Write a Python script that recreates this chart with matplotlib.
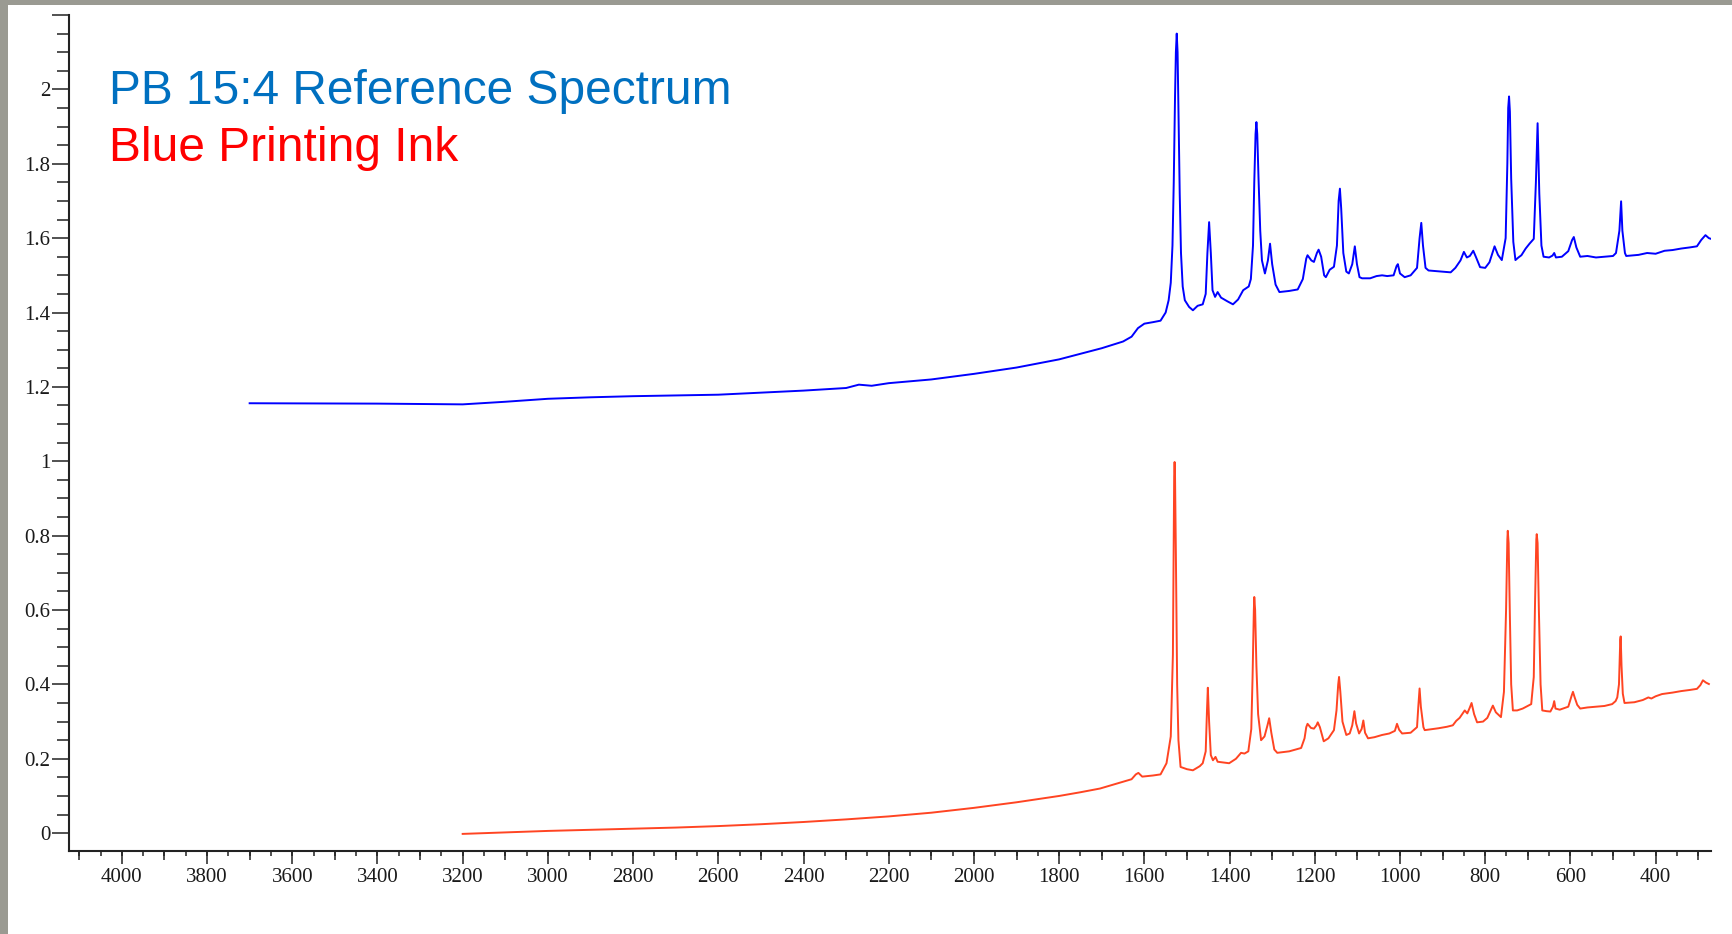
import matplotlib
matplotlib.use("Agg")
import matplotlib.pyplot as plt
from matplotlib.patches import Rectangle
from matplotlib.ticker import MultipleLocator
import numpy as np

# ---------------- data ----------------
blue_x = [3700, 3400, 3200, 3100, 3000, 2900, 2800, 2600, 2400, 2300, 2270, 2240, 2200, 2100,
          2000, 1900, 1800, 1700, 1650, 1630, 1615, 1600, 1580, 1562, 1550, 1543, 1538, 1534, 1531,
          1528, 1526, 1524, 1522, 1520, 1517, 1514, 1510, 1505, 1495, 1486, 1475, 1463, 1456, 1452, 1448, 1444,
          1440, 1434, 1428, 1420, 1405, 1392, 1380, 1368, 1355, 1350, 1345, 1342, 1339, 1337, 1335, 1332,
          1328, 1324, 1317, 1310, 1305, 1300, 1292, 1283, 1260, 1240, 1228, 1220, 1217, 1208,
          1202, 1195, 1191, 1185, 1178, 1174, 1165, 1155, 1148, 1144, 1141, 1138, 1133, 1126,
          1120, 1112, 1106, 1101, 1095, 1089, 1070, 1055, 1042, 1030, 1015, 1008, 1005, 1000,
          989, 975, 960, 954, 950, 946, 940, 933, 900, 881, 870, 858, 850, 843, 836, 828, 822,
          812, 800, 790, 778, 770, 761, 752, 748, 746, 744, 742, 739, 734, 729, 722, 715, 705, 696, 686,
          681, 677, 673, 668, 663, 650, 642, 638, 634, 620, 605, 596, 592, 586, 577, 560, 540,
          520, 500, 493, 485, 481, 478, 472, 469, 440, 420, 400, 379, 360, 340, 320, 303, 293,
          283, 275, 270]
blue_y = [1.156, 1.155, 1.153, 1.160, 1.168, 1.172, 1.175, 1.179, 1.190, 1.197, 1.206, 1.203, 1.210, 1.220,
          1.235, 1.252, 1.274, 1.304, 1.322, 1.335, 1.358, 1.370, 1.374, 1.378, 1.400, 1.433, 1.480, 1.580, 1.750,
          1.980, 2.100, 2.150, 2.100, 1.950, 1.720, 1.560, 1.470, 1.433, 1.415, 1.406, 1.418, 1.422, 1.450, 1.560, 1.643, 1.560,
          1.460, 1.442, 1.455, 1.440, 1.430, 1.422, 1.435, 1.460, 1.470, 1.490, 1.580, 1.750, 1.880, 1.912, 1.880, 1.760,
          1.620, 1.540, 1.505, 1.540, 1.585, 1.530, 1.475, 1.455, 1.458, 1.462, 1.490, 1.545, 1.554, 1.540,
          1.536, 1.560, 1.569, 1.550, 1.500, 1.495, 1.515, 1.523, 1.580, 1.700, 1.733, 1.680, 1.560, 1.510,
          1.505, 1.530, 1.578, 1.530, 1.495, 1.492, 1.492, 1.498, 1.500, 1.498, 1.500, 1.525, 1.530, 1.505,
          1.495, 1.500, 1.520, 1.600, 1.641, 1.580, 1.520, 1.513, 1.510, 1.508, 1.520, 1.540, 1.563, 1.548, 1.552, 1.566, 1.550,
          1.522, 1.520, 1.535, 1.578, 1.555, 1.541, 1.600, 1.800, 1.950, 1.981, 1.940, 1.760, 1.590, 1.541, 1.548, 1.554, 1.572, 1.585, 1.598,
          1.750, 1.909, 1.720, 1.580, 1.550, 1.548, 1.553, 1.560, 1.548, 1.550, 1.565, 1.595, 1.603, 1.575, 1.550, 1.552, 1.548,
          1.550, 1.552, 1.560, 1.620, 1.699, 1.620, 1.560, 1.552, 1.555, 1.560, 1.558, 1.566, 1.568, 1.572, 1.575, 1.578, 1.595,
          1.608, 1.600, 1.598]

red_x = [3200, 3100, 3000, 2900, 2800, 2700, 2600, 2500, 2400, 2300, 2200, 2100, 2000, 1900, 1800, 1750,
         1704, 1660, 1630, 1620, 1614, 1605, 1580, 1562, 1548, 1538, 1533, 1531, 1530, 1529, 1528, 1526, 1523, 1520,
         1515, 1500, 1486, 1470, 1463, 1456, 1453, 1451, 1448, 1444, 1439, 1433, 1428, 1415, 1401, 1385,
         1373, 1365, 1356, 1349, 1346, 1343, 1342, 1340, 1337, 1333, 1326, 1318, 1311, 1307, 1302, 1295, 1288, 1260,
         1232, 1224, 1220, 1217, 1209, 1202, 1196, 1193, 1188, 1185, 1179, 1168, 1155, 1149, 1145, 1143,
         1140, 1135, 1126, 1118, 1112, 1107, 1103, 1096, 1090, 1086, 1082, 1075, 1060, 1042, 1025, 1012,
         1007, 1002, 995, 975, 960, 957, 954, 951, 945, 942, 910, 890, 876, 868, 860, 848, 842, 836, 832,
         826, 819, 805, 795, 785, 782, 775, 763, 756, 751, 748, 747, 745, 742, 739, 735, 725, 712, 700, 692, 686,
         683, 680, 679, 677, 674, 670, 666, 656, 647, 641, 638, 635, 625, 605, 597, 594, 590, 584, 577, 560, 540,
         520, 502, 494, 490, 486, 483, 482, 480, 477, 473, 450, 430, 417, 410, 400, 385, 360, 340, 320,
         303, 295, 289, 282, 275]
red_y = [-0.002, 0.002, 0.006, 0.009, 0.012, 0.015, 0.019, 0.024, 0.030, 0.037, 0.045, 0.055, 0.068, 0.083, 0.100, 0.110,
         0.120, 0.135, 0.145, 0.158, 0.162, 0.152, 0.155, 0.158, 0.188, 0.260, 0.480, 0.800, 0.960, 0.998, 0.960, 0.750, 0.400, 0.250,
         0.178, 0.172, 0.169, 0.180, 0.188, 0.220, 0.330, 0.391, 0.300, 0.210, 0.196, 0.205, 0.192, 0.190, 0.188, 0.200,
         0.216, 0.214, 0.220, 0.280, 0.420, 0.600, 0.635, 0.600, 0.450, 0.320, 0.250, 0.260, 0.290, 0.309, 0.270, 0.225, 0.216, 0.220,
         0.229, 0.255, 0.285, 0.294, 0.283, 0.281, 0.290, 0.298, 0.285, 0.272, 0.247, 0.255, 0.277, 0.330, 0.400, 0.420,
         0.380, 0.300, 0.264, 0.268, 0.290, 0.328, 0.295, 0.268, 0.280, 0.303, 0.270, 0.255, 0.258, 0.264, 0.268, 0.275,
         0.294, 0.278, 0.268, 0.270, 0.285, 0.340, 0.389, 0.340, 0.285, 0.277, 0.282, 0.286, 0.290, 0.302, 0.310, 0.330, 0.322, 0.338, 0.350,
         0.320, 0.298, 0.300, 0.310, 0.335, 0.343, 0.325, 0.312, 0.380, 0.600, 0.790, 0.813, 0.780, 0.580, 0.400, 0.330, 0.330, 0.335, 0.342, 0.347, 0.420,
         0.620, 0.790, 0.804, 0.780, 0.600, 0.400, 0.330, 0.328, 0.327, 0.340, 0.355, 0.335, 0.332, 0.340, 0.370, 0.380, 0.365, 0.345, 0.335, 0.338, 0.340,
         0.342, 0.347, 0.355, 0.365, 0.400, 0.520, 0.529, 0.450, 0.375, 0.350, 0.352, 0.358, 0.365, 0.362, 0.368, 0.374, 0.378, 0.382, 0.385,
         0.388, 0.398, 0.411, 0.405, 0.401]

blue_label = "PB 15:4 Reference Spectrum"
red_label = "Blue Printing Ink"

# ---------------- figure ----------------
W, H = 1732, 934
fig = plt.figure(figsize=(W / 100, H / 100), dpi=100)
fig.patch.set_facecolor("#9a9a92")
fig.add_artist(Rectangle((8 / W, 0), 1 - 8 / W, 1 - 4.7 / H, transform=fig.transFigure,
                         facecolor="white", edgecolor="none", zorder=-5))

ax = fig.add_axes([69 / W, (H - 851) / H, (1711 - 69) / W, (851 - 15) / H])
ax.set_facecolor("none")
ax.plot(blue_x, blue_y, color="#0000ff", lw=1.4, solid_joinstyle="round")
ax.plot(red_x, red_y, color="#ff4422", lw=1.4, solid_joinstyle="round")

ax.set_xlim(4124, 270)
ax.set_ylim(-0.048, 2.2)

for s in ["top", "right"]:
    ax.spines[s].set_visible(False)
for s in ["left", "bottom"]:
    ax.spines[s].set_linewidth(1.5)
    ax.spines[s].set_color("#222222")

ax.xaxis.set_major_locator(MultipleLocator(200))
ax.xaxis.set_minor_locator(MultipleLocator(100))
ax.yaxis.set_major_locator(MultipleLocator(0.2))
ax.yaxis.set_minor_locator(MultipleLocator(0.05))

def yfmt(v, pos):
    if v > 2.1:
        return ""
    s = f"{v:.1f}"
    if s.endswith(".0"):
        s = s[:-2]
    if s == "-0":
        s = "0"
    return s

ax.yaxis.set_major_formatter(plt.FuncFormatter(yfmt))
ax.xaxis.set_major_formatter(plt.FuncFormatter(lambda v, p: f"{int(round(v))}"))

ax.tick_params(axis="x", which="major", length=9, width=1.1, color="#222222", pad=3,
               labelsize=15, labelcolor="#1a1a1a")
ax.tick_params(axis="x", which="minor", length=6.5, width=1.1, color="#222222")
ax.tick_params(axis="y", which="major", length=12.5, width=1.1, color="#222222", pad=1,
               labelsize=15, labelcolor="#1a1a1a")
ax.tick_params(axis="y", which="minor", length=8.5, width=1.1, color="#222222")
for lab in ax.get_xticklabels() + ax.get_yticklabels():
    lab.set_fontfamily("Liberation Serif")

# shortest ticks every 50
sec = ax.secondary_xaxis("bottom")
sec.spines["bottom"].set_visible(False)
sec.xaxis.set_major_locator(MultipleLocator(50))
sec.tick_params(axis="x", which="major", length=3.5, width=1.1, color="#222222", labelbottom=False)
sec.xaxis.set_minor_locator(plt.NullLocator())

fig.text(109 / W, 1 - 104.3 / H, blue_label, color="#0070c0", fontsize=34.5,
         fontfamily="Liberation Sans", va="baseline", ha="left")
fig.text(109 / W, 1 - 161 / H, red_label, color="#ff0000", fontsize=34.5,
         fontfamily="Liberation Sans", va="baseline", ha="left")

fig.savefig("out.png", dpi=100)
